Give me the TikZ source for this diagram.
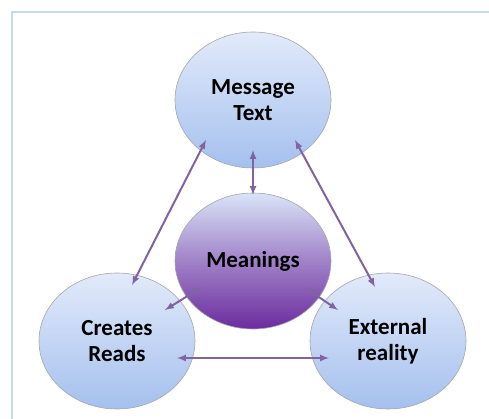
\documentclass[tikz,border=0pt]{standalone}
\usepackage{fontspec}
\setmainfont{Carlito}
\usepackage{tikz}
\usetikzlibrary{calc,shapes.geometric}

\definecolor{framecol}{HTML}{C6D9F1}
\definecolor{bluetop}{HTML}{E2EAFA}
\definecolor{bluebot}{HTML}{A5C0EE}
\definecolor{purpbot}{HTML}{6B2C9E}
\definecolor{arrowcol}{HTML}{8064A2}

\tikzset{
  bubble/.style={ellipse,draw=gray!70,line width=0.6pt,
    minimum width=156pt,minimum height=136pt,
    shading=axis,top color=bluetop,bottom color=bluebot,
    align=center,font=\fontsize{23}{26}\selectfont\bfseries},
  core/.style={bubble,top color=bluetop!85!bluebot,bottom color=purpbot,
    middle color=purpbot!55!bluetop},
  link/.style={<->,arrowcol,line width=2pt}
}

\begin{document}
\begin{tikzpicture}[x=1pt,y=-1pt,cap=round,>=latex]
\useasboundingbox (0,0) rectangle (489,419);
% draw the frame
\draw[framecol,line width=2pt] (489,12) -- (12,12) -- (12,419);

% draw the four ellipses
\node[bubble] (msg) at (253,100) {Message\\Text};
\node[core]   (mng) at (253,261) {Meanings};
\node[bubble] (crt) at (117,341) {Creates\\Reads};
\node[bubble] (ext) at (388,341) {External\\reality};

% draw the arrows between them
\draw[link] ($(msg)+(-47,40)$) -- ($(crt)+(15,-56)$);
\draw[link] ($(msg)+(42,40)$)  -- ($(ext)+(-13,-54)$);
\draw[link] ($(msg)+(0,50)$)   -- ($(mng)+(0,-66)$);
\draw[link] ($(mng)+(-51,26)$) -- ($(crt)+(48,-31)$);
\draw[link] ($(mng)+(51,26)$)  -- ($(ext)+(-50,-31)$);
\draw[link] ($(crt)+(60,17)$)  -- ($(ext)+(-59,17)$);
\end{tikzpicture}
\end{document}
